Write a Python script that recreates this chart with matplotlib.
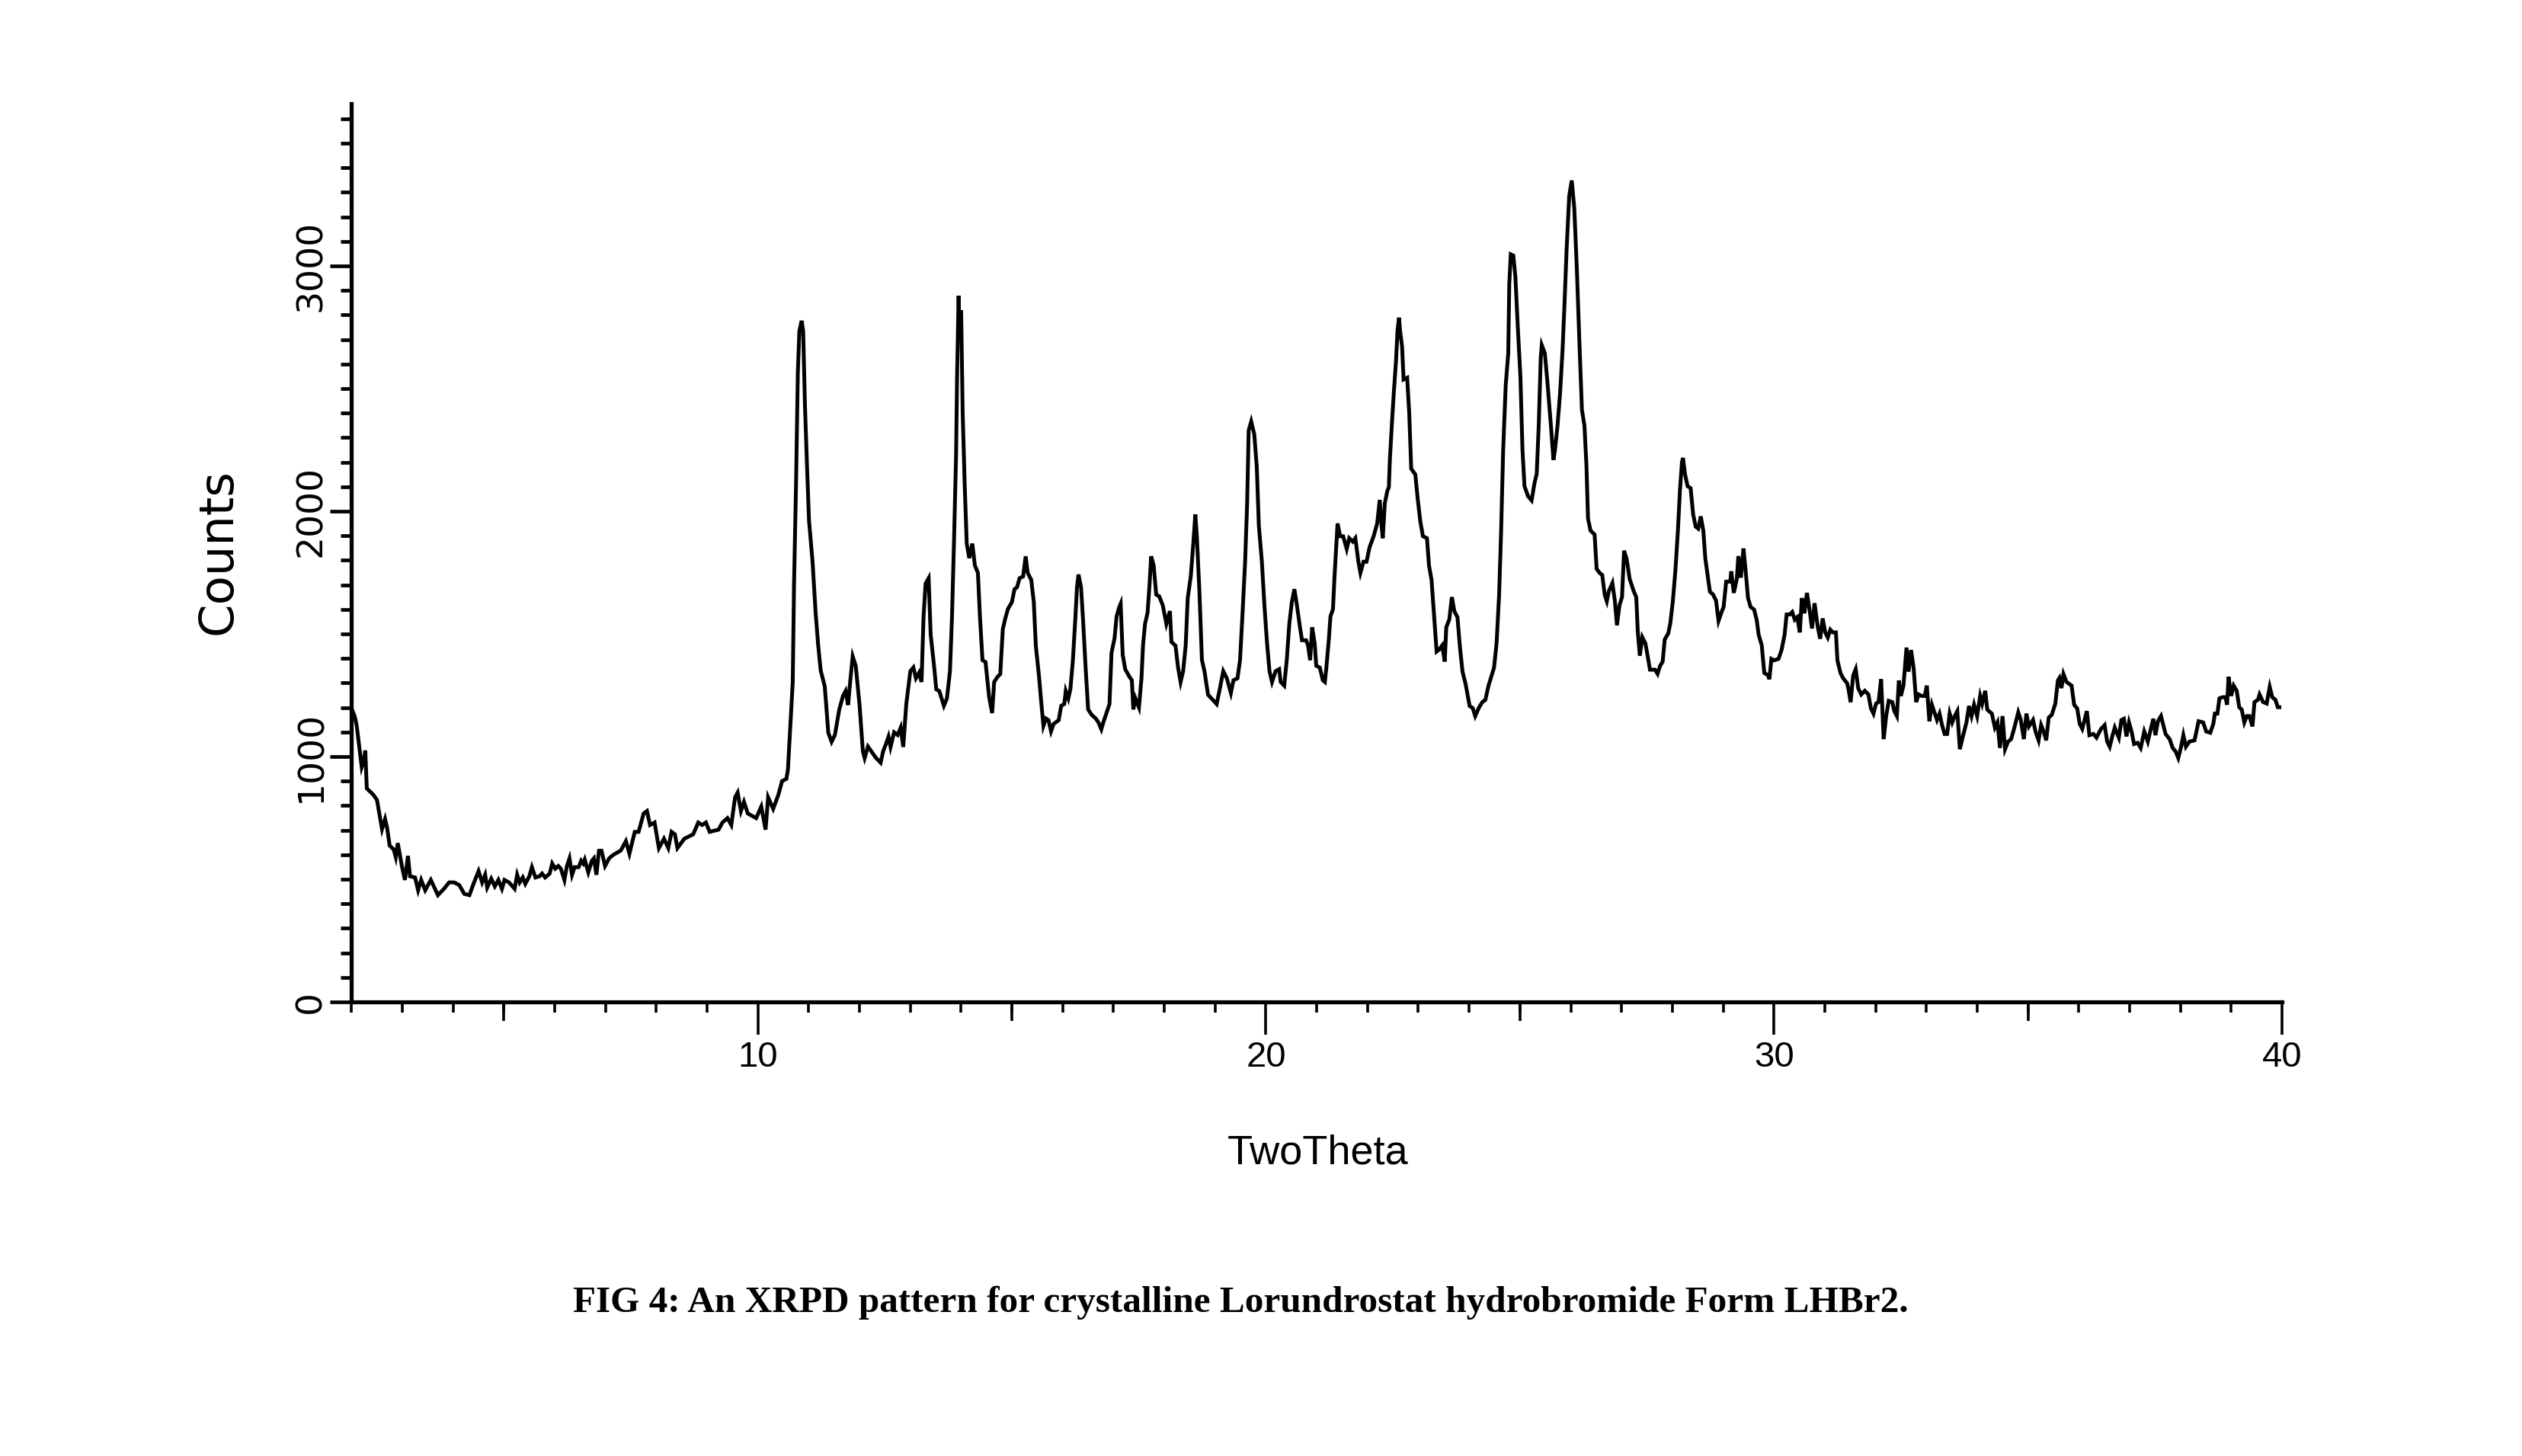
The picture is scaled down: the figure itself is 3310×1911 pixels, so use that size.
import matplotlib
matplotlib.use("Agg")
import matplotlib.pyplot as plt
from matplotlib import font_manager
from matplotlib.ticker import FixedLocator, MultipleLocator

# XRPD pattern (2theta, counts)
tt_1 = [2.0, 2.06, 2.1, 2.2, 2.24, 2.27, 2.3, 2.38, 2.43, 2.5, 2.6, 2.66, 2.7, 2.75, 2.83, 2.87, 2.91, 2.99, 3.05, 3.11,
        3.15, 3.25, 3.31, 3.37, 3.45, 3.56, 3.7, 3.82, 3.92, 4.02, 4.12, 4.22, 4.32, 4.4, 4.5, 4.57, 4.63, 4.67, 4.75, 4.82,
        4.89, 4.96, 5.01, 5.1, 5.21, 5.26, 5.31, 5.37, 5.42, 5.5, 5.55, 5.62, 5.7, 5.75, 5.81, 5.9, 5.95, 6.01, 6.07, 6.12,
        6.19, 6.24, 6.29, 6.34, 6.39, 6.47, 6.52, 6.56, 6.59, 6.66, 6.73, 6.77, 6.82, 6.87, 6.92, 6.99, 7.07]
cnt_1 = [1196, 1165, 1128, 957, 983, 1025, 870, 854, 844, 823, 704, 745, 709, 637, 621, 590, 647, 554, 497, 595,
         512, 507, 455, 497, 455, 497, 435, 461, 487, 487, 476, 440, 435, 481, 533, 487, 518, 466, 502, 471,
         497, 461, 497, 487, 461, 518, 487, 507, 481, 512, 549, 507, 512, 523, 507, 523, 564, 543, 554, 543,
         497, 554, 585, 518, 549, 549, 575, 564, 580, 528, 575, 585, 518, 616, 616, 554, 585]

tt_2 = [7.15, 7.3, 7.4, 7.47, 7.52, 7.575, 7.65, 7.75, 7.815, 7.875, 7.965, 8.05, 8.15, 8.235, 8.3, 8.365, 8.415, 8.55,
        8.725, 8.825, 8.9, 8.975, 9.05, 9.225, 9.3, 9.4, 9.475, 9.55, 9.6, 9.665, 9.725, 9.8, 9.965, 10.065, 10.15, 10.2,
        10.3, 10.4, 10.475, 10.56, 10.59, 10.64, 10.685, 10.71, 10.75, 10.785, 10.815, 10.86, 10.89, 10.925, 10.965,
        11.005, 11.075, 11.135, 11.185, 11.235, 11.315, 11.385, 11.45, 11.515, 11.6, 11.675, 11.725, 11.775, 11.815,
        11.865, 11.925, 12.0, 12.065, 12.1, 12.165, 12.325, 12.415, 12.465]
cnt_2 = [599, 617, 655, 604, 646, 693, 693, 768, 778, 721, 731, 627, 665, 627, 693, 683, 627, 665, 683, 731,
         721, 731, 693, 702, 731, 749, 721, 834, 853, 778, 815, 768, 749, 796, 702, 834, 787, 843, 900, 909,
         947, 1135, 1304, 1700, 2113, 2565, 2734, 2776, 2734, 2433, 2189, 1963, 1794, 1587, 1455, 1351, 1286, 1097,
         1060, 1088, 1191, 1248, 1267, 1210, 1304, 1408, 1370, 1210, 1022, 994, 1041, 994, 975, 1022]

tt_3 = [12.52, 12.57, 12.61, 12.68, 12.75, 12.81, 12.86, 12.92, 13.0, 13.06, 13.11, 13.17, 13.22, 13.26, 13.3, 13.36,
        13.4, 13.47, 13.51, 13.57, 13.66, 13.72, 13.78, 13.82, 13.86, 13.9, 13.92, 13.95, 13.97, 14.0, 14.03, 14.07,
        14.11, 14.16, 14.22, 14.27, 14.33, 14.37, 14.42, 14.48, 14.55, 14.61, 14.65, 14.72, 14.77, 14.82, 14.87, 14.92,
        15.0, 15.05, 15.1, 15.15, 15.22, 15.27, 15.31, 15.38, 15.43, 15.47, 15.53, 15.58, 15.62, 15.67, 15.72, 15.77,
        15.82, 15.92, 15.97, 16.03, 16.06, 16.11, 16.15, 16.2, 16.25, 16.28, 16.31, 16.36, 16.4, 16.45, 16.5, 16.57,
        16.65, 16.7, 16.76, 16.8, 16.86, 16.92, 16.96, 17.02, 17.06, 17.11, 17.14, 17.18, 17.23, 17.31, 17.36, 17.39,
        17.43, 17.5, 17.55, 17.58, 17.62, 17.67, 17.71, 17.74, 17.79, 17.84]
cnt_3 = [1051, 1081, 1039, 1099, 1088, 1118, 1039, 1214, 1348, 1363, 1319, 1341, 1304, 1571, 1705, 1727, 1497, 1363,
         1274, 1267, 1207, 1237, 1348, 1571, 1883, 2225, 2551, 2878, 2700, 2819, 2403, 2106, 1868, 1809, 1868, 1779,
         1749, 1571, 1393, 1385, 1244, 1177, 1304, 1326, 1336, 1519, 1564, 1601, 1630, 1682, 1690, 1727, 1734, 1816,
         1749, 1720, 1630, 1452, 1333, 1214, 1125, 1155, 1148, 1103, 1133, 1148, 1207, 1214, 1267, 1237, 1274, 1393,
         1571, 1690, 1742, 1690, 1556, 1363, 1192, 1170, 1155, 1140, 1111, 1140, 1177, 1214, 1423, 1482, 1571, 1608,
         1623, 1415, 1356, 1326, 1311, 1192, 1237, 1200, 1319, 1452, 1541, 1586, 1705, 1816, 1779, 1660]

tt_4 = [17.9, 17.97, 18.04, 18.11, 18.14, 18.22, 18.27, 18.32, 18.37, 18.42, 18.46, 18.52, 18.57, 18.61, 18.64, 18.69,
        18.74, 18.79, 18.86, 19.03, 19.09, 19.16, 19.23, 19.31, 19.36, 19.44, 19.49, 19.54, 19.59, 19.63, 19.66, 19.71,
        19.77, 19.82, 19.86, 19.92, 19.97, 20.02, 20.07, 20.12, 20.19, 20.26, 20.29, 20.36, 20.41, 20.46, 20.51, 20.56,
        20.61, 20.67, 20.71, 20.79, 20.83, 20.87, 20.91, 20.96, 20.99, 21.06, 21.12, 21.16, 21.19, 21.24, 21.27, 21.32,
        21.35, 21.41, 21.46, 21.52, 21.59, 21.64, 21.71, 21.76, 21.82, 21.86, 21.92, 21.98, 22.04, 22.12, 22.19, 22.24,
        22.27, 22.3, 22.34, 22.39, 22.42, 22.44, 22.48, 22.52, 22.56, 22.59, 22.62, 22.64, 22.68, 22.71, 22.78, 22.82,
        22.86, 22.94, 22.99, 23.04, 23.09, 23.17, 23.21, 23.26]
cnt_4 = [1653, 1616, 1541, 1593, 1467, 1452, 1363, 1304, 1348, 1452, 1645, 1734, 1868, 1987, 1898, 1675, 1393, 1348,
         1252, 1214, 1274, 1348, 1319, 1259, 1311, 1319, 1393, 1586, 1794, 2032, 2329, 2366, 2314, 2180, 1942, 1794,
         1616, 1467, 1348, 1304, 1348, 1356, 1304, 1289, 1393, 1541, 1630, 1682, 1616, 1527, 1474, 1474, 1452, 1393,
         1527, 1460, 1370, 1363, 1311, 1304, 1363, 1482, 1571, 1601, 1734, 1950, 1898, 1898, 1846, 1890, 1876, 1890,
         1794, 1749, 1794, 1794, 1853, 1898, 1950, 2046, 1957, 1890, 2032, 2083, 2098, 2210, 2358, 2492, 2611, 2737,
         2789, 2737, 2670, 2537, 2544, 2403, 2173, 2150, 2046, 1957, 1898, 1890, 1779, 1720]

tt_5 = [23.36, 23.41, 23.47, 23.52, 23.55, 23.61, 23.66, 23.71, 23.77, 23.82, 23.87, 23.93, 24.01, 24.07, 24.12, 24.19,
        24.26, 24.32, 24.38, 24.44, 24.49, 24.54, 24.59, 24.63, 24.67, 24.72, 24.77, 24.79, 24.82, 24.87, 24.91, 24.96,
        25.01, 25.05, 25.09, 25.16, 25.23, 25.29, 25.33, 25.37, 25.41, 25.43, 25.49, 25.54, 25.61, 25.66, 25.69, 25.74,
        25.79, 25.84, 25.88, 25.92, 25.97, 26.02, 26.07, 26.12, 26.17, 26.22, 26.27, 26.31, 26.34, 26.39, 26.47, 26.51,
        26.57, 26.62, 26.67, 26.71, 26.75, 26.82, 26.87, 26.91, 26.96, 27.01, 27.05, 27.1, 27.16, 27.24, 27.29, 27.32,
        27.36, 27.41, 27.47, 27.52, 27.56, 27.66, 27.71, 27.76, 27.81, 27.85, 27.92, 27.96, 28.01, 28.06, 28.11, 28.15,
        28.19, 28.21, 28.25, 28.3, 28.36, 28.41, 28.46, 28.51, 28.56, 28.61, 28.65]
cnt_5 = [1428, 1436, 1453, 1387, 1527, 1559, 1650, 1592, 1568, 1444, 1346, 1296, 1206, 1198, 1165, 1198, 1222, 1231,
         1288, 1329, 1362, 1461, 1658, 1921, 2250, 2513, 2644, 2924, 3047, 3042, 2957, 2743, 2546, 2250, 2102, 2061,
         2044, 2118, 2151, 2349, 2628, 2677, 2644, 2529, 2349, 2209, 2250, 2349, 2480, 2661, 2858, 3072, 3285, 3348,
         3236, 2990, 2694, 2414, 2349, 2184, 1970, 1921, 1905, 1765, 1748, 1740, 1658, 1633, 1674, 1707, 1633, 1535,
         1617, 1650, 1839, 1806, 1724, 1674, 1650, 1510, 1411, 1486, 1461, 1403, 1354, 1354, 1337, 1370, 1387, 1477,
         1502, 1543, 1633, 1757, 1921, 2085, 2201, 2217, 2151, 2102, 2094, 1987, 1937, 1929, 1979, 1921, 1806]

tt_6 = [28.74, 28.8, 28.86, 28.91, 28.97, 29.01, 29.06, 29.14, 29.16, 29.21, 29.27, 29.3, 29.35, 29.4, 29.44, 29.49,
        29.54, 29.61, 29.66, 29.7, 29.76, 29.81, 29.89, 29.91, 29.95, 30.0, 30.09, 30.15, 30.21, 30.25, 30.31, 30.36,
        30.41, 30.46, 30.51, 30.55, 30.6, 30.65, 30.7, 30.75, 30.8, 30.86, 30.91, 30.96, 31.01, 31.06, 31.11, 31.16,
        31.22, 31.25, 31.31, 31.36, 31.44, 31.47, 31.51, 31.56, 31.61, 31.66, 31.72, 31.79, 31.86, 31.91, 31.96, 32.01,
        32.06, 32.11, 32.16, 32.21, 32.26, 32.33, 32.37, 32.42, 32.46, 32.5, 32.55, 32.61, 32.65, 32.7, 32.75, 32.8,
        32.85, 32.91, 32.97, 33.01, 33.06, 33.11, 33.16, 33.21, 33.26, 33.31, 33.36, 33.41, 33.46, 33.51, 33.56, 33.61,
        33.66, 33.72, 33.79, 33.84, 33.89, 33.94, 34.0]
cnt_6 = [1672, 1661, 1636, 1553, 1589, 1610, 1713, 1713, 1755, 1667, 1724, 1817, 1729, 1848, 1765, 1646, 1610, 1599,
         1558, 1496, 1454, 1341, 1330, 1315, 1398, 1392, 1398, 1434, 1496, 1579, 1579, 1589, 1558, 1568, 1506, 1646,
         1584, 1667, 1599, 1522, 1625, 1532, 1480, 1563, 1506, 1485, 1517, 1506, 1506, 1392, 1341, 1320, 1299, 1273,
         1222, 1330, 1356, 1278, 1253, 1268, 1253, 1196, 1175, 1216, 1222, 1315, 1071, 1165, 1227, 1222, 1185, 1165,
         1310, 1247, 1289, 1444, 1346, 1434, 1361, 1222, 1253, 1247, 1247, 1289, 1144, 1211, 1180, 1149, 1175, 1128,
         1092, 1092, 1175, 1139, 1165, 1185, 1030, 1082, 1139, 1206, 1165, 1211, 1165]

tt_7 = [34.06, 34.1, 34.16, 34.2, 34.29, 34.35, 34.4, 34.45, 34.5, 34.55, 34.61, 34.67, 34.74, 34.81, 34.86, 34.92,
        34.97, 35.02, 35.1, 35.15, 35.21, 35.26, 35.31, 35.36, 35.41, 35.47, 35.54, 35.59, 35.62, 35.66, 35.7, 35.76,
        35.86, 35.91, 35.97, 36.02, 36.07, 36.11, 36.16, 36.21, 36.29, 36.35, 36.44, 36.51, 36.56, 36.61, 36.66, 36.71,
        36.79, 36.84, 36.89, 36.94, 36.99, 37.04, 37.09, 37.16, 37.22, 37.29, 37.36, 37.42, 37.47, 37.51, 37.56, 37.62,
        37.66, 37.71, 37.79, 37.85, 37.91, 37.96, 38.01, 38.06, 38.11, 38.18, 38.28, 38.36, 38.45, 38.51, 38.59, 38.65,
        38.68, 38.73, 38.77, 38.83, 38.89, 38.92, 38.95, 39.0, 39.05, 39.11, 39.16, 39.21, 39.26, 39.31, 39.36, 39.42,
        39.46, 39.53, 39.56, 39.63, 39.7, 39.76, 39.81, 39.87, 39.92, 39.95]
cnt_7 = [1247, 1216, 1268, 1191, 1175, 1118, 1139, 1035, 1165, 1030, 1061, 1071, 1123, 1180, 1149, 1071, 1175, 1123,
         1149, 1102, 1066, 1128, 1102, 1066, 1159, 1170, 1216, 1310, 1320, 1279, 1336, 1304, 1289, 1211, 1196, 1133,
         1113, 1144, 1185, 1087, 1092, 1077, 1113, 1128, 1061, 1040, 1082, 1118, 1077, 1149, 1154, 1082, 1139, 1102,
         1051, 1056, 1035, 1102, 1061, 1113, 1154, 1087, 1144, 1165, 1133, 1092, 1071, 1035, 1020, 994, 1035, 1087,
         1040, 1061, 1066, 1144, 1139, 1102, 1097, 1133, 1175, 1175, 1237, 1242, 1242, 1211, 1325, 1247, 1289, 1268,
         1201, 1191, 1139, 1165, 1165, 1123, 1222, 1232, 1253, 1222, 1216, 1284, 1242, 1232, 1201, 1201]

two_theta = tt_1 + tt_2 + tt_3 + tt_4 + tt_5 + tt_6 + tt_7
counts = cnt_1 + cnt_2 + cnt_3 + cnt_4 + cnt_5 + cnt_6 + cnt_7

x_labels = ["10", "20", "30", "40"]
y_labels = ["0", "1000", "2000", "3000"]
caption = "FIG 4: An XRPD pattern for crystalline Lorundrostat hydrobromide Form LHBr2."

names = {f.name for f in font_manager.fontManager.ttflist}
narrow = "Liberation Sans Narrow" if "Liberation Sans Narrow" in names else "Liberation Sans"

fig = plt.figure(figsize=(33.1, 19.11), dpi=100)
ax = fig.add_axes([0.1394, 0.3119, 0.7654, 0.6167])

ax.plot(two_theta, counts, color="black", lw=3.6, solid_joinstyle="miter")

ax.set_xlim(2, 40)
ax.set_ylim(0, 3660)

for side in ["top", "right"]:
    ax.spines[side].set_visible(False)
for side in ["left", "bottom"]:
    ax.spines[side].set_linewidth(3.8)

# x axis: long ticks every 10, medium every 5, short every 1
ax.xaxis.set_major_locator(FixedLocator([10, 20, 30, 40]))
ax.xaxis.set_minor_locator(MultipleLocator(1))
ax.set_xticklabels(x_labels, fontsize=34, family=narrow)
ax.tick_params(axis="x", which="major", length=31, width=2.6, pad=6)
ax.tick_params(axis="x", which="minor", length=10, width=2.6)

sec = ax.secondary_xaxis("bottom")
sec.xaxis.set_major_locator(FixedLocator([5, 15, 25, 35]))
sec.tick_params(axis="x", length=18, width=2.6, labelbottom=False)
sec.xaxis.set_minor_locator(FixedLocator([]))
sec.spines["bottom"].set_visible(False)

# y axis: labels every 1000, ticks every 100
ax.yaxis.set_major_locator(FixedLocator([0, 1000, 2000, 3000]))
ax.yaxis.set_minor_locator(MultipleLocator(100))
ax.set_yticklabels(y_labels, fontsize=34, family="DejaVu Sans", rotation=90, va="center")
ax.tick_params(axis="y", which="major", length=20, width=3.4, pad=2)
ax.tick_params(axis="y", which="minor", length=10, width=3.4)

fig.text(0.0867, 0.621, "Counts", fontsize=45, family="DejaVu Sans",
         rotation=90, ha="center", va="center")
fig.text(0.5224, 0.2009, "TwoTheta", fontsize=39, family=narrow,
         ha="center", va="baseline")
fig.text(0.492, 0.0989, caption, fontsize=35.5, family="Liberation Serif",
         fontweight="bold", ha="center", va="baseline")

fig.savefig("out.png", dpi=100)
